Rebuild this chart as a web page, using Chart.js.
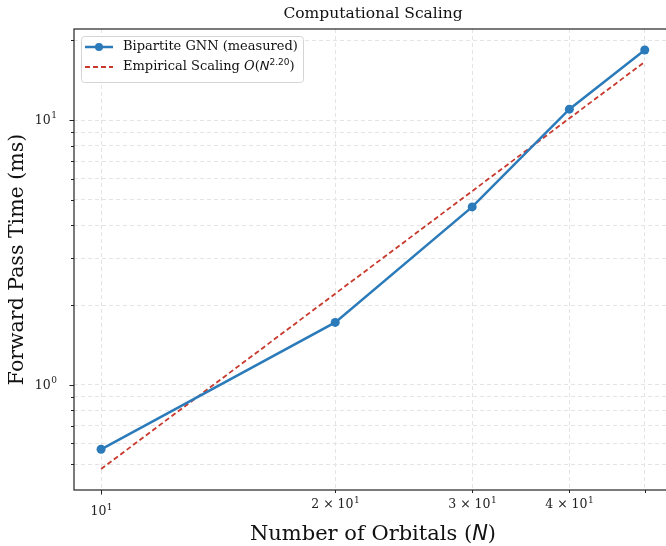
<!DOCTYPE html>
<html>
<head>
<meta charset="utf-8">
<script src="https://cdn.jsdelivr.net/npm/chart.js@4.4.1/dist/chart.umd.min.js"></script>
<style>
  html, body { margin: 0; padding: 0; background: #fff; overflow: hidden; }
  #wrap { width: 680px; height: 546px; }
</style>
</head>
<body>
<div id="wrap"><canvas id="scalingChart"></canvas></div>
<script>
// ----------------------------------------------------
// DATA
// ----------------------------------------------------
const orbitals = [10, 20, 30, 40, 50];
const timeMs = [0.57, 1.72, 4.70, 11.0, 18.4];

// dashed fit line, O(N^2.20), two end points (straight on log-log)
const fitOrbitals = [10, 50];
const fitMs = [0.48, 16.6];

const xTickValues = [10, 20, 30, 40, 50];
const xTickMantissa = ['', '2', '3', '4', null]; // null -> tick without label
const yTickValues = [0.5, 0.6, 0.7, 0.8, 0.9, 1, 2, 3, 4, 5, 6, 7, 8, 9, 10, 20];
const yTickExponent = { 1: '0', 10: '1' }; // only decades carry a label

const BLUE = '#2b7bba';
const RED = '#c8392e';
const SERIF = "'DejaVu Serif', serif";
const SANS = "'DejaVu Sans', sans-serif";

// ----------------------------------------------------
// TEXT HELPERS
// ----------------------------------------------------

// draws "[m × ]10^e" ; align = 'center' | 'right'
function drawPow(ctx, mant, exp, x, y, align) {
    const base = (mant ? mant + ' \u00d7 ' : '') + '10';
    ctx.font = '12.5px ' + SERIF;
    const wBase = ctx.measureText(base).width;
    ctx.font = '9px ' + SERIF;
    const wExp = ctx.measureText(exp).width;
    const total = wBase + wExp + 0.5;
    let x0 = align === 'right' ? x - total : x - total / 2;
    ctx.textAlign = 'left';
    ctx.textBaseline = 'middle';
    ctx.font = '12.5px ' + SERIF;
    ctx.fillText(base, x0, y);
    ctx.font = '9px ' + SERIF;
    ctx.fillText(exp, x0 + wBase + 0.5, y - 4.5);
}

// draws a list of [text, font, dy] runs; align center or left
function drawRuns(ctx, runs, x, y, align) {
    let total = 0;
    runs.forEach(r => { ctx.font = r[1]; total += ctx.measureText(r[0]).width; });
    let cx = align === 'center' ? x - total / 2 : x;
    ctx.textAlign = 'left';
    ctx.textBaseline = 'middle';
    runs.forEach(r => {
        ctx.font = r[1];
        ctx.fillText(r[0], cx, y + (r[2] || 0));
        cx += ctx.measureText(r[0]).width;
    });
}

// ----------------------------------------------------
// DECORATION PLUGIN (frame, ticks, labels, titles, legend)
// ----------------------------------------------------
const decorations = {
    id: 'decorations',
    afterDraw(chart) {
        const ctx = chart.ctx;
        const a = chart.chartArea;
        const xs = chart.scales.x;
        const ys = chart.scales.y;
        ctx.save();

        // frame
        ctx.strokeStyle = '#222';
        ctx.lineWidth = 1.2;
        ctx.setLineDash([]);
        ctx.strokeRect(a.left, a.top, a.right - a.left, a.bottom - a.top);

        // x ticks + labels
        ctx.fillStyle = '#222';
        ctx.lineWidth = 1;
        xTickValues.forEach((v, i) => {
            const px = Math.round(xs.getPixelForValue(v)) + 0.5;
            const major = i === 0;
            ctx.beginPath();
            ctx.moveTo(px, a.bottom);
            ctx.lineTo(px, a.bottom + (major ? 4.5 : 3));
            ctx.stroke();
            if (xTickMantissa[i] !== null) {
                drawPow(ctx, xTickMantissa[i], '1', px, major ? 512 : 505, 'center');
            }
        });

        // y ticks + labels
        yTickValues.forEach(v => {
            const py = Math.round(ys.getPixelForValue(v)) + 0.5;
            const major = yTickExponent[v] !== undefined;
            ctx.beginPath();
            ctx.moveTo(a.left, py);
            ctx.lineTo(a.left - (major ? 4.5 : 3), py);
            ctx.stroke();
            if (major) drawPow(ctx, '', yTickExponent[v], a.left - 17, py, 'right');
        });

        // title
        ctx.fillStyle = '#111';
        drawRuns(ctx, [['Computational Scaling', '15.5px ' + SERIF]], (a.left + a.right) / 2, 14, 'center');

        // x axis title
        drawRuns(ctx, [
            ['Number of Orbitals (', '21px ' + SERIF],
            ['N', 'italic 21px ' + SANS],
            [')', '21px ' + SERIF]
        ], (a.left + a.right) / 2, 535, 'center');

        // y axis title
        ctx.save();
        ctx.translate(18, (a.top + a.bottom) / 2);
        ctx.rotate(-Math.PI / 2);
        drawRuns(ctx, [['Forward Pass Time (ms)', '20.5px ' + SERIF]], 0, 0, 'center');
        ctx.restore();

        // legend
        ctx.beginPath();
        ctx.roundRect(81.5, 36.5, 222, 46, 3);
        ctx.fillStyle = 'rgba(255,255,255,0.85)';
        ctx.fill();
        ctx.strokeStyle = '#d4d4d4';
        ctx.lineWidth = 1;
        ctx.stroke();

        ctx.strokeStyle = BLUE;
        ctx.lineWidth = 2.5;
        ctx.beginPath();
        ctx.moveTo(85, 47);
        ctx.lineTo(113, 47);
        ctx.stroke();
        ctx.fillStyle = BLUE;
        ctx.beginPath();
        ctx.arc(99, 47, 4, 0, Math.PI * 2);
        ctx.fill();

        ctx.strokeStyle = RED;
        ctx.lineWidth = 1.8;
        ctx.setLineDash([5, 3]);
        ctx.beginPath();
        ctx.moveTo(85, 67);
        ctx.lineTo(113, 67);
        ctx.stroke();
        ctx.setLineDash([]);

        ctx.fillStyle = '#111';
        drawRuns(ctx, [['Bipartite GNN (measured)', '13px ' + SERIF]], 123, 47, 'left');
        drawRuns(ctx, [
            ['Empirical Scaling ', '13px ' + SERIF],
            ['O', 'italic 13px ' + SERIF],
            ['(', '13px ' + SERIF],
            ['N', 'italic 13px ' + SANS],
            ['2.20', '9px ' + SANS, -4.5],
            [')', '13px ' + SERIF]
        ], 123, 67, 'left');

        ctx.restore();
    }
};

// ----------------------------------------------------
// CHART
// ----------------------------------------------------
function renderScalingChart() {
    const ctx = document.getElementById('scalingChart').getContext('2d');

    new Chart(ctx, {
        type: 'line',
        data: {
            datasets: [
                {
                    label: 'Bipartite GNN (measured)',
                    data: orbitals.map((n, i) => ({ x: n, y: timeMs[i] })),
                    borderColor: BLUE,
                    backgroundColor: BLUE,
                    borderWidth: 2.5,
                    pointRadius: 4.5,
                    pointBorderWidth: 0,
                    tension: 0,
                    order: 1
                },
                {
                    label: 'Empirical Scaling',
                    data: fitOrbitals.map((n, i) => ({ x: n, y: fitMs[i] })),
                    borderColor: RED,
                    borderWidth: 1.8,
                    borderDash: [5, 3],
                    pointRadius: 0,
                    tension: 0,
                    order: 2
                }
            ]
        },
        options: {
            responsive: true,
            maintainAspectRatio: false,
            animation: false,
            layout: { padding: { left: 0, top: 29, right: 8, bottom: 0 } },
            plugins: { legend: { display: false }, title: { display: false }, tooltip: { enabled: false } },
            scales: {
                x: {
                    type: 'logarithmic',
                    min: 9.23,
                    max: 54.2,
                    afterBuildTicks: s => { s.ticks = xTickValues.map(v => ({ value: v })); },
                    afterFit: s => { s.height = 56; },
                    ticks: { display: false },
                    grid: { color: '#e4e4e4', lineWidth: 1, drawTicks: false },
                    border: { display: false, dash: [4, 3] }
                },
                y: {
                    type: 'logarithmic',
                    min: 0.40,
                    max: 22.1,
                    afterBuildTicks: s => { s.ticks = yTickValues.map(v => ({ value: v })); },
                    afterFit: s => { s.width = 74; },
                    ticks: { display: false },
                    grid: { color: '#e4e4e4', lineWidth: 1, drawTicks: false },
                    border: { display: false, dash: [4, 3] }
                }
            }
        },
        plugins: [decorations]
    });
}

window.onload = renderScalingChart;
</script>
</body>
</html>
